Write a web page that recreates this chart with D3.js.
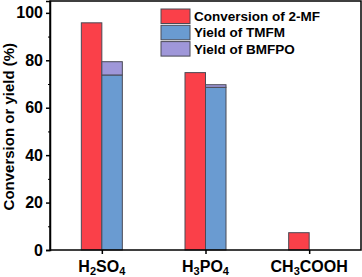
<!DOCTYPE html>
<html>
<head>
<meta charset="utf-8">
<script src="https://cdn.jsdelivr.net/npm/d3@7"></script>
<style>
  body { margin: 0; background: #fff; }
  svg { display: block; font-family: "Liberation Sans", Arial, sans-serif; font-weight: bold; }
</style>
</head>
<body>
<svg id="chart" width="362" height="277"></svg>
<script>
// data
const acids = [["H", "2", "SO", "4"], ["H", "3", "PO", "4"], ["CH", "3", "COOH", ""]];
const acidKeys = ["H2SO4", "H3PO4", "CH3COOH"];
const conversion = [95.8, 74.8, 7.3];
const yieldTMFM = [73.8, 68.6, 0];
const yieldBMFPO = [5.6, 1.1, 0];
const legendLabels = ["Conversion of 2-MF", "Yield of TMFM", "Yield of BMFPO"];
const colors = ["#fa4049", "#6a9bd1", "#9f97d9"];
const yTicks = [0, 20, 40, 60, 80, 100];

const margin = {top: 1, right: 1, bottom: 27, left: 50},
  width = 362 - margin.left - margin.right,
  height = 277 - margin.top - margin.bottom;

const svg = d3.select("#chart");
const g = svg.append("g").attr("transform", `translate(${margin.left},${margin.top})`);

const x = d3.scalePoint().domain(acidKeys).range([0, width]).padding(0.5);
const y = d3.scaleLinear().domain([0, 105]).range([height, 0]);
const bw = 20.5;

// bars
acidKeys.forEach((k, i) => {
  const cx = x(k);
  const bar = (x0, v0, v1, c) => {
    if (v1 - v0 <= 0) return;
    g.append("rect")
      .attr("x", x0).attr("y", y(v1))
      .attr("width", bw).attr("height", y(v0) - y(v1))
      .attr("fill", c).attr("stroke", "#4a4a55").attr("stroke-width", 1);
  };
  bar(cx - bw, 0, conversion[i], colors[0]);
  bar(cx, 0, yieldTMFM[i], colors[1]);
  bar(cx, yieldTMFM[i], yieldTMFM[i] + yieldBMFPO[i], colors[2]);
});

// frame
g.append("rect").attr("width", width).attr("height", height)
  .attr("fill", "none").attr("stroke", "#000").attr("stroke-width", 1.5);

// y axis
const yAxis = g.append("g").call(d3.axisLeft(y).tickValues(yTicks).tickSize(4).tickPadding(3));
yAxis.select(".domain").attr("stroke-width", 1.5);
yAxis.selectAll(".tick line").attr("stroke-width", 1.5);
yAxis.selectAll("text").attr("font-size", 16).attr("font-weight", "bold").attr("fill", "#000")
  .attr("font-family", "Liberation Sans, Arial, sans-serif");
g.append("g").call(d3.axisLeft(y).tickValues([10, 30, 50, 70, 90]).tickSize(2).tickFormat(""))
  .call(s => s.select(".domain").remove())
  .selectAll(".tick line").attr("stroke-width", 1);

// x axis
const xAxis = g.append("g").attr("transform", `translate(0,${height})`)
  .call(d3.axisBottom(x).tickSize(4).tickFormat(""));
xAxis.select(".domain").remove();
xAxis.selectAll(".tick line").attr("stroke-width", 1.5);

acids.forEach((parts, i) => {
  const t = g.append("text")
    .attr("x", x(acidKeys[i])).attr("y", height + 22)
    .attr("text-anchor", "middle").attr("font-size", 16);
  t.append("tspan").text(parts[0]);
  t.append("tspan").attr("font-size", 11).attr("dy", 3).text(parts[1]);
  t.append("tspan").attr("dy", -3).text(parts[2]);
  if (parts[3]) t.append("tspan").attr("font-size", 11).attr("dy", 3).text(parts[3]);
});

// y title
svg.append("text")
  .attr("transform", `translate(14,${margin.top + y(52)}) rotate(-90)`)
  .attr("text-anchor", "middle").attr("font-size", 15)
  .text("Conversion or yield (%)");

// legend
const legend = svg.append("g").attr("transform", "translate(161,9)");
legendLabels.forEach((lab, i) => {
  legend.append("rect").attr("x", 0).attr("y", i * 16.3)
    .attr("width", 29).attr("height", 14.5)
    .attr("fill", colors[i]).attr("stroke", "#4a4a55").attr("stroke-width", 1);
  legend.append("text").attr("x", 33).attr("y", i * 16.3 + 12)
    .attr("font-size", 13.5).text(lab);
});
</script>
</body>
</html>
